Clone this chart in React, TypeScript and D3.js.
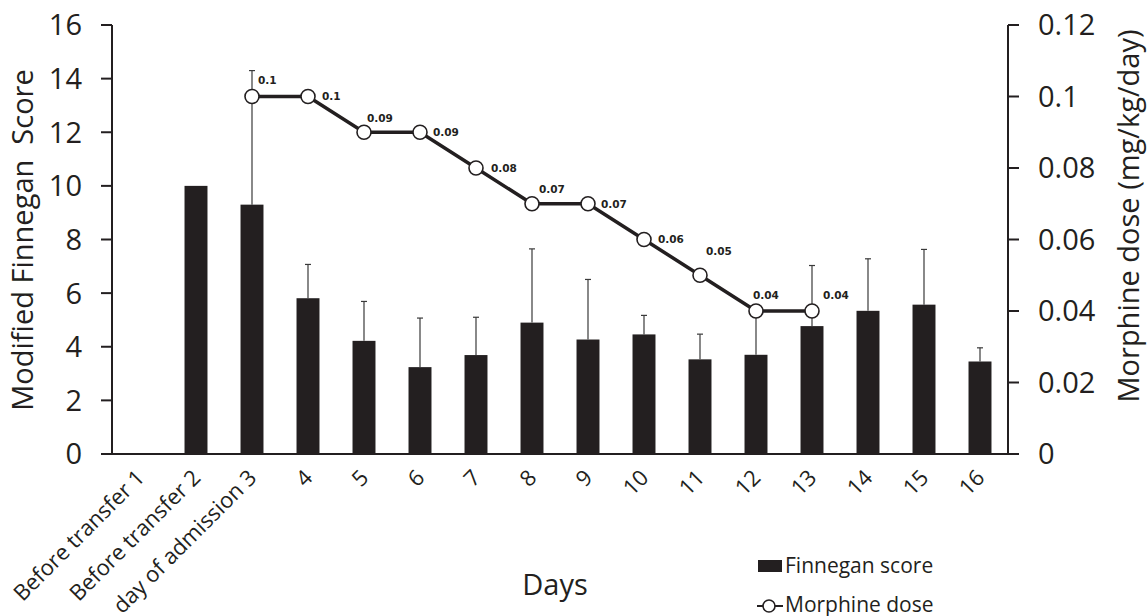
import * as d3 from 'd3'
import React from 'react'

// data
const categories = ['Before transfer 1', 'Before transfer 2', 'day of admission 3', '4', '5', '6', '7', '8', '9', '10', '11', '12', '13', '14', '15', '16']
const finneganScore = [null, 10, 9.3, 5.81, 4.22, 3.24, 3.69, 4.9, 4.27, 4.46, 3.53, 3.7, 4.77, 5.34, 5.57, 3.45]
const finneganSD = [null, null, 5.0, 1.26, 1.47, 1.83, 1.41, 2.75, 2.24, 0.71, 0.94, 1.6, 2.26, 1.94, 2.06, 0.51]
const morphineDose = [null, null, 0.1, 0.1, 0.09, 0.09, 0.08, 0.07, 0.07, 0.06, 0.05, 0.04, 0.04, null, null, null]
const leftTicks = [0, 2, 4, 6, 8, 10, 12, 14, 16]
const rightTicks = [0, 0.02, 0.04, 0.06, 0.08, 0.1, 0.12]

// where each dose label sits relative to its marker
const labelOffset: Record<number, [number, number]> = {
  2: [6, -16], 3: [14, 0], 4: [3, -14], 5: [13, 0], 6: [15, 0], 7: [7, -15],
  8: [13, 0], 9: [14, 0], 10: [6, -24], 11: [-3, -16], 12: [11, -16],
}

const W = 1147, H = 616
const ink = '#231f20'
const font = '"Open Sans", sans-serif'

export default function App() {
  const x = d3.scaleBand<string>().domain(categories).range([112, 1008]).paddingInner(0.59).paddingOuter(0.295)
  const y = d3.scaleLinear().domain([0, 16]).range([454, 25])
  const y2 = d3.scaleLinear().domain([0, 0.12]).range([454, 25])
  const cx = (c: string) => (x(c) as number) + x.bandwidth() / 2

  const pts = categories.map((c, i) => ({ c, i, v: morphineDose[i] })).filter(d => d.v != null) as { c: string, i: number, v: number }[]
  const line = d3.line<{ c: string, v: number }>().x(d => cx(d.c)).y(d => y2(d.v))

  return (
    <svg width={W} height={H} style={{ position: 'absolute', left: 0, top: 0, background: '#fff' }} fontFamily={font}>
      {/* bars */}
      {categories.map((c, i) => finneganScore[i] == null ? null : (
        <rect key={c} x={x(c)} y={y(finneganScore[i] as number)} width={x.bandwidth()}
          height={y(0) - y(finneganScore[i] as number)} fill={ink} />
      ))}
      {/* error bars (upper only) */}
      {categories.map((c, i) => {
        const m = finneganScore[i], s = finneganSD[i]
        if (m == null || s == null) return null
        const top = y(m + s)
        return (
          <g key={'e' + c} stroke="#3a3a3a" strokeWidth={1.2}>
            <line x1={cx(c)} x2={cx(c)} y1={y(m)} y2={top} />
            <line x1={cx(c) - 3} x2={cx(c) + 3} y1={top} y2={top} />
          </g>
        )
      })}

      {/* axes */}
      <g stroke={ink} strokeWidth={2} fill="none">
        <line x1={112} x2={112} y1={y(16)} y2={y(0)} />
        {leftTicks.map(t => <line key={t} x1={101} x2={112} y1={y(t)} y2={y(t)} />)}
        <line x1={1008} x2={1008} y1={y2(0.12)} y2={y2(0)} />
        {rightTicks.map(t => <line key={t} x1={1008} x2={1019} y1={y2(t)} y2={y2(t)} />)}
        <line x1={101} x2={1019} y1={y(0)} y2={y(0)} />
      </g>
      {leftTicks.map(t => (
        <text key={t} x={82} y={y(t)} dy="0.36em" textAnchor="end" fontSize={29} fill={ink}>{t}</text>
      ))}
      {rightTicks.map(t => (
        <text key={t} x={1038} y={y2(t)} dy="0.36em" textAnchor="start" fontSize={29} fill={ink}>{d3.format('~g')(t)}</text>
      ))}
      {categories.map(c => (
        <text key={c} transform={`translate(${cx(c) + 6},${479}) rotate(-45)`} textAnchor="end" fontSize={22} fill={ink}>{c}</text>
      ))}

      <text transform={`translate(33,240) rotate(-90)`} textAnchor="middle" fontSize={29} fill={ink}
        style={{ whiteSpace: 'pre' }}>Modified Finnegan  Score</text>
      <text transform={`translate(1139,216) rotate(-90)`} textAnchor="middle" fontSize={29} fill={ink}>Morphine dose (mg/kg/day)</text>
      <text x={555} y={595} textAnchor="middle" fontSize={29} fill={ink}>Days</text>

      {/* morphine line */}
      <path d={line(pts) as string} fill="none" stroke={ink} strokeWidth={3.5} />
      {pts.map(d => (
        <circle key={d.c} cx={cx(d.c)} cy={y2(d.v)} r={7} fill="#fff" stroke={ink} strokeWidth={1.6} />
      ))}
      {pts.map(d => {
        const [dx, dy] = labelOffset[d.i] || [10, -14]
        return (
          <text key={'l' + d.c} x={cx(d.c) + dx} y={y2(d.v) + dy} dy="0.36em" fontFamily='"DejaVu Sans", sans-serif'
            fontWeight="bold" fontSize={10.5} fill={ink}>{d3.format('~g')(d.v)}</text>
        )
      })}

      {/* legend */}
      <rect x={758} y={560} width={24} height={12} fill={ink} />
      <text x={785} y={573} fontSize={21} fill={ink}>Finnegan score</text>
      <line x1={757} x2={783} y1={606} y2={606} stroke={ink} strokeWidth={2} />
      <circle cx={769} cy={606} r={6} fill="#fff" stroke={ink} strokeWidth={1.6} />
      <text x={785} y={612} fontSize={21} fill={ink}>Morphine dose</text>
    </svg>
  )
}
